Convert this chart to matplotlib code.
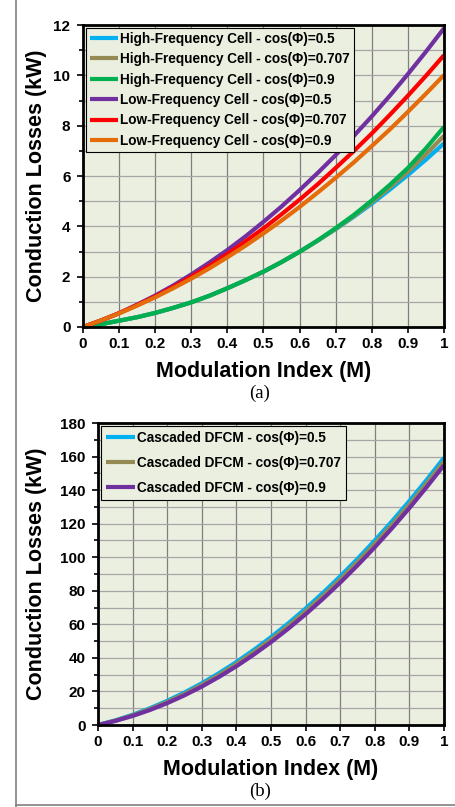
import matplotlib
matplotlib.use("Agg")
import matplotlib.pyplot as plt
from matplotlib.ticker import MultipleLocator
from matplotlib.lines import Line2D

plt.rcParams['font.family'] = ['Liberation Sans', 'DejaVu Sans']

# modulation index, sampled every 0.05
m = [0, 0.05, 0.1, 0.15, 0.2, 0.25, 0.3, 0.35, 0.4, 0.45, 0.5,
     0.55, 0.6, 0.65, 0.7, 0.75, 0.8, 0.85, 0.9, 0.95, 1.0]

# (a) conduction losses per cell, kW
hf_05 = [0, 0.11, 0.25, 0.39, 0.56, 0.76, 0.98, 1.24, 1.54, 1.86, 2.2,
         2.58, 2.99, 3.43, 3.89, 4.38, 4.9, 5.46, 6.04, 6.65, 7.3]
hf_0707 = [0, 0.11, 0.25, 0.39, 0.56, 0.76, 0.98, 1.24, 1.54, 1.86, 2.2,
           2.58, 2.99, 3.43, 3.9, 4.41, 4.96, 5.55, 6.17, 6.86, 7.6]
hf_09 = [0, 0.11, 0.25, 0.39, 0.56, 0.76, 0.98, 1.24, 1.54, 1.86, 2.2,
         2.58, 2.99, 3.44, 3.93, 4.45, 5.03, 5.65, 6.32, 7.1, 7.95]
lf_05 = [0, 0.26, 0.55, 0.89, 1.25, 1.65, 2.09, 2.56, 3.06, 3.6, 4.18,
         4.79, 5.44, 6.12, 6.83, 7.59, 8.37, 9.19, 10.05, 10.94, 11.87]
lf_0707 = [0, 0.26, 0.55, 0.87, 1.21, 1.59, 2.0, 2.43, 2.9, 3.4, 3.92,
           4.48, 5.06, 5.67, 6.32, 6.99, 7.69, 8.43, 9.19, 9.98, 10.8]
lf_09 = [0, 0.26, 0.54, 0.85, 1.18, 1.54, 1.92, 2.33, 2.77, 3.23, 3.72,
         4.23, 4.77, 5.34, 5.93, 6.54, 7.19, 7.85, 8.55, 9.27, 10.01]

# (b) cascaded DFCM, kW
dfcm_05 = [0, 2.79, 6.12, 10.0, 14.42, 19.39, 24.9, 30.96, 37.56, 44.71, 52.4,
           60.64, 69.42, 78.75, 88.62, 99.04, 110.0, 121.5, 133.56, 146.16, 159.3]
dfcm_0707 = [0, 2.6, 5.75, 9.45, 13.7, 18.5, 23.9, 29.8, 36.3, 43.3, 50.9,
             59.0, 67.7, 76.9, 86.7, 97.1, 108.0, 119.4, 131.4, 144.0, 157.1]
dfcm_09 = [0, 2.42, 5.39, 8.93, 13.03, 17.69, 22.91, 28.69, 35.03, 41.94, 49.4,
           57.43, 66.01, 75.16, 84.87, 95.14, 105.97, 117.36, 129.31, 141.83, 154.9]

labels_a = ['High-Frequency Cell - cos(\u03a6)=0.5',
            'High-Frequency Cell - cos(\u03a6)=0.707',
            'High-Frequency Cell - cos(\u03a6)=0.9',
            'Low-Frequency Cell - cos(\u03a6)=0.5',
            'Low-Frequency Cell - cos(\u03a6)=0.707',
            'Low-Frequency Cell - cos(\u03a6)=0.9']
labels_b = ['Cascaded DFCM - cos(\u03a6)=0.5',
            'Cascaded DFCM - cos(\u03a6)=0.707',
            'Cascaded DFCM - cos(\u03a6)=0.9']

colors_a = ['#00B0F0', '#948A54', '#00B050', '#7030A0', '#FF0000', '#E46C0A']
colors_b = ['#00B0F0', '#948A54', '#7030A0']
xticks = [0, 0.1, 0.2, 0.3, 0.4, 0.5, 0.6, 0.7, 0.8, 0.9, 1]
xticklabels = ['0', '0.1', '0.2', '0.3', '0.4', '0.5', '0.6', '0.7', '0.8', '0.9', '1']

BG = '#EBEFDF'
LW = 3.0


def style_axes(ax, ymax, ymajor, yminor):
    ax.set_facecolor(BG)
    ax.set_xlim(0, 1)
    ax.set_ylim(0, ymax)
    ax.set_xticks(xticks)
    ax.set_xticklabels(xticklabels)
    ax.yaxis.set_major_locator(MultipleLocator(ymajor))
    ax.yaxis.set_minor_locator(MultipleLocator(yminor))
    ax.xaxis.grid(True, color='#7F7F7F', lw=0.9)
    ax.yaxis.grid(True, which='both', color='#A6A6A6', lw=0.9)
    ax.set_axisbelow(True)
    for s in ax.spines.values():
        s.set_linewidth(2.0)
        s.set_color('black')
    ax.tick_params(axis='x', which='major', direction='out', length=4,
                   width=1.2, labelsize=11, pad=3)
    ax.tick_params(axis='y', which='major', direction='out', length=4,
                   width=1.2, labelsize=11, pad=5)
    ax.tick_params(axis='y', which='minor', direction='out', length=3, width=1.2)
    for t in ax.get_xticklabels() + ax.get_yticklabels():
        t.set_fontweight('bold')


fig = plt.figure(figsize=(4.55, 8.07), dpi=100)

# ---- (a)
ax1 = fig.add_axes([0.1824, 0.5948, 0.7934, 0.3742])
series_a = [hf_05, hf_0707, hf_09, lf_05, lf_0707, lf_09]
for ys, c, lab in zip(series_a, colors_a, labels_a):
    ax1.plot(m, ys, color=c, lw=LW, label=lab, solid_capstyle='butt', clip_on=False)
style_axes(ax1, 12, 2, 1)
leg1 = ax1.legend(loc='upper left', bbox_to_anchor=(0.0, 1.0),
                  prop={'weight': 'bold', 'size': 9.8}, frameon=True,
                  fancybox=False, edgecolor='black', framealpha=1,
                  handlelength=2.1, handletextpad=0.15, labelspacing=0.47,
                  borderpad=0.3, borderaxespad=0.2)
leg1.get_frame().set_facecolor(BG)
leg1.get_frame().set_linewidth(0.8)

# ---- (b)
ax2 = fig.add_axes([0.2154, 0.1016, 0.7604, 0.3742])
series_b = [dfcm_05, dfcm_0707, dfcm_09]
for ys, c, lab in zip(series_b, colors_b, labels_b):
    ax2.plot(m, ys, color=c, lw=LW, label=lab, solid_capstyle='butt', clip_on=False)
style_axes(ax2, 180, 20, 10)
leg2 = ax2.legend(loc='upper left', bbox_to_anchor=(0.0, 1.0),
                  prop={'weight': 'bold', 'size': 9.85}, frameon=True,
                  fancybox=False, edgecolor='black', framealpha=1,
                  handlelength=2.1, handletextpad=0.15, labelspacing=0.78,
                  borderpad=0.4, borderaxespad=0.2)
leg2.get_frame().set_facecolor(BG)
leg2.get_frame().set_linewidth(0.8)

# axis titles and captions
fig.text(37 / 455, 1 - 176 / 807, 'Conduction Losses (kW)', rotation=90,
         ha='center', va='center', fontsize=15.5, fontweight='bold')
fig.text(264 / 455, 1 - 372 / 807, 'Modulation Index (M)', ha='center',
         va='center', fontsize=15.5, fontweight='bold')
fig.text(260 / 455, 1 - 393 / 807, '(a)', ha='center', va='center',
         fontsize=13.5, family='Liberation Serif')

fig.text(37 / 455, 1 - 574 / 807, 'Conduction Losses (kW)', rotation=90,
         ha='center', va='center', fontsize=15.5, fontweight='bold')
fig.text(271 / 455, 1 - 770 / 807, 'Modulation Index (M)', ha='center',
         va='center', fontsize=15.5, fontweight='bold')
fig.text(260 / 455, 1 - 791 / 807, '(b)', ha='center', va='center',
         fontsize=13.5, family='Liberation Serif')

# outer page frame (left and bottom edges)
fig.add_artist(Line2D([16 / 455, 16 / 455], [0, 1], color='#808080', lw=1.2))
fig.add_artist(Line2D([16 / 455, 1], [1 - 805 / 807, 1 - 805 / 807],
                      color='#808080', lw=1.2))

fig.savefig('out.png', dpi=100)
